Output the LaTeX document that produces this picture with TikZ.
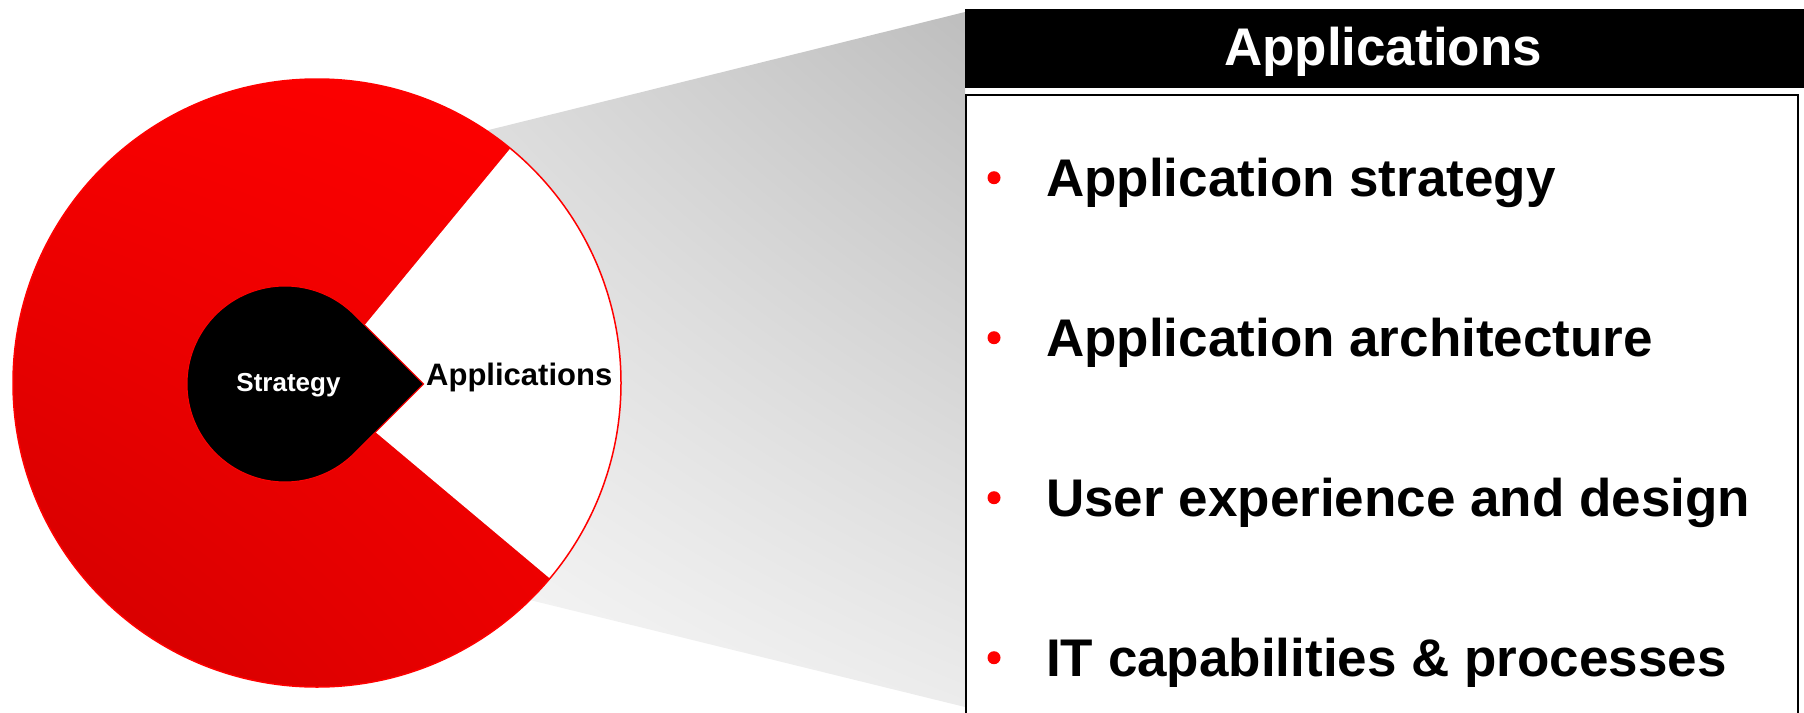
\documentclass[tikz,border=0pt]{standalone}
\usepackage{fontspec}
\setmainfont{Liberation Sans}
\usetikzlibrary{calc,shadings}

\definecolor{ringred}{RGB}{255,0,0}
\definecolor{ringmid}{RGB}{238,0,0}
\definecolor{ringdark}{RGB}{208,0,0}
\definecolor{funneldark}{RGB}{190,190,190}
\definecolor{funnelmid}{RGB}{220,220,220}
\definecolor{funnellow}{RGB}{236,236,236}
\definecolor{funnellight}{RGB}{250,250,250}
\definecolor{bulletred}{RGB}{255,0,0}

\begin{document}
\begin{tikzpicture}[x=1pt,y=-1pt,
  itemtext/.style={anchor=base west, inner sep=0pt,
    font=\fontsize{53}{60}\selectfont\bfseries},
  bulletdot/.style={fill=bulletred, draw=none},
  titletext/.style={anchor=base, inner sep=0pt, text=white,
    font=\fontsize{53}{60}\selectfont\bfseries},
  hubtext/.style={anchor=base, inner sep=0pt, text=white,
    font=\fontsize{26}{30}\selectfont\bfseries},
  sectortext/.style={anchor=base west, inner sep=0pt, text=black,
    font=\fontsize{31}{36}\selectfont\bfseries}]

\useasboundingbox (0,0) rectangle (1804,712);
\clip (0,0) rectangle (1804,712);

% key points
\coordinate (C) at (317,383);      % centre of the ring
\coordinate (S) at (285,384);      % centre of the hub
\coordinate (tip) at (423.6,384);  % point of the hub

% grey funnel from the ring to the panel
\shade[upper right=funneldark, upper left=funnelmid,
       lower left=funnellight, lower right=funnellow]
  (420,147) -- (965,12) -- (965,707) -- (420,573) -- cycle;

% red ring with the open sector
\shade[upper right=ringred, upper left=ringred!97!black,
       lower left=ringdark, lower right=ringmid]
  (C) circle[radius=304];
\fill[white] (C) -- ++(40:304) arc[start angle=40, end angle=-50.5, radius=304] -- cycle;
\draw[ringred, line width=1.5pt] (C) circle[radius=304];

% hub
\filldraw[fill=black, draw=ringred, line width=1pt]
  (tip) -- ([shift={(-45:98)}]S) arc[start angle=-45, end angle=-315, radius=98] -- cycle;

\node[hubtext] (strategy) at (288.5,391.5) {Strategy};
\node[sectortext] (appsector) at (426,385) {Applications};

% panel
\fill[black] (965,8.5) rectangle (1810,87.5);
\node[titletext] (title) at (1383,65) {Applications};
\draw[black, line width=2pt, fill=white] (965.5,94.5) rectangle (1798,740);

% list
\foreach \name/\y/\txt in {i1/196.7/Application strategy,
                           i2/356.7/Application architecture,
                           i3/516.7/User experience and design,
                           i4/676.7/IT capabilities \& processes}{
  \fill[bulletdot] (994,\y-19) circle[radius=6.5];
  \node[itemtext] (\name) at (1046,\y) {\txt};
}
\end{tikzpicture}
\end{document}
